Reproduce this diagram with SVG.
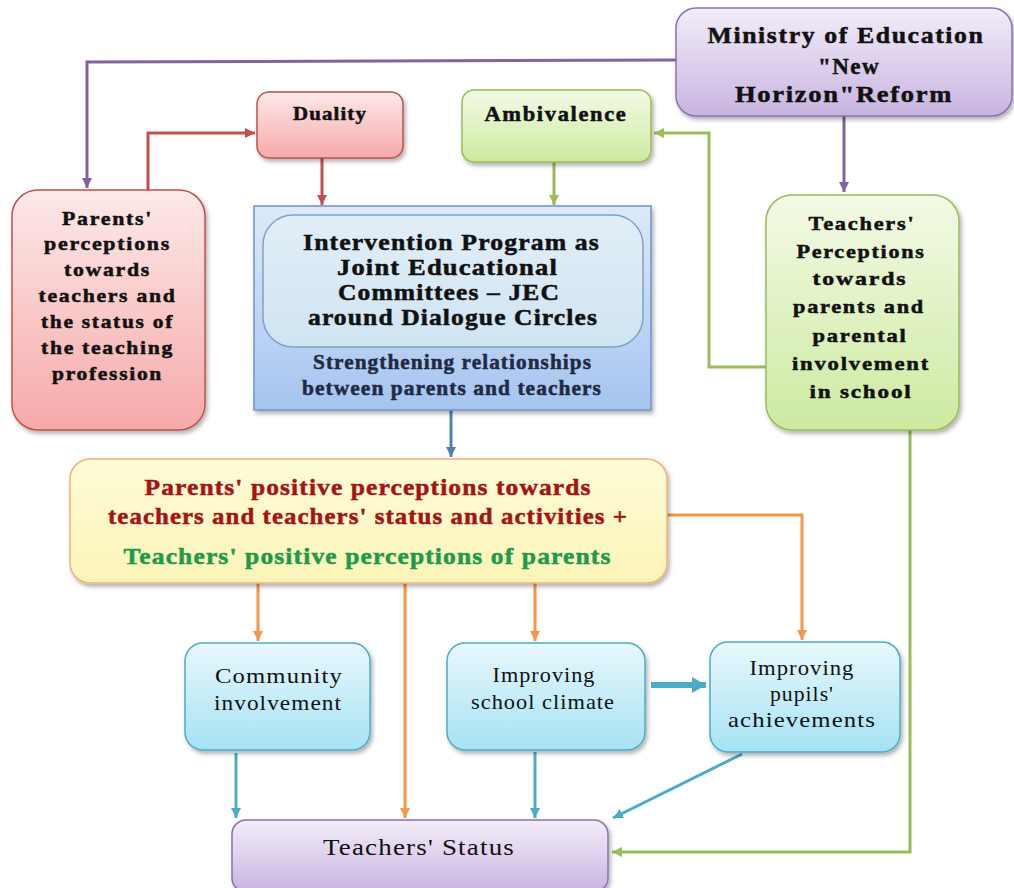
<svg xmlns="http://www.w3.org/2000/svg" width="1014" height="888" viewBox="0 0 1014 888">
  <defs>
    <linearGradient id="gPurple" x1="0" y1="0" x2="0" y2="1">
      <stop offset="0" stop-color="#f3edf9"/>
      <stop offset="1" stop-color="#c8b4e0"/>
    </linearGradient>
    <linearGradient id="gPink" x1="0" y1="0" x2="0" y2="1">
      <stop offset="0" stop-color="#fde9e9"/>
      <stop offset="1" stop-color="#f6a9a9"/>
    </linearGradient>
    <linearGradient id="gGreen" x1="0" y1="0" x2="0" y2="1">
      <stop offset="0" stop-color="#f3fae6"/>
      <stop offset="1" stop-color="#cdeaa0"/>
    </linearGradient>
    <linearGradient id="gBlue" x1="0" y1="0" x2="0" y2="1">
      <stop offset="0" stop-color="#dde9f8"/>
      <stop offset="1" stop-color="#a6c4f0"/>
    </linearGradient>
    <linearGradient id="gInner" x1="0" y1="0" x2="0" y2="1">
      <stop offset="0" stop-color="#e2eef7"/>
      <stop offset="1" stop-color="#d0e4f2"/>
    </linearGradient>
    <linearGradient id="gYellow" x1="0" y1="0" x2="0" y2="1">
      <stop offset="0" stop-color="#fefcd8"/>
      <stop offset="1" stop-color="#fbf4b8"/>
    </linearGradient>
    <linearGradient id="gCyan" x1="0" y1="0" x2="0" y2="1">
      <stop offset="0" stop-color="#e8f8fd"/>
      <stop offset="1" stop-color="#a6e2f4"/>
    </linearGradient>
    <filter id="shadow" x="-10%" y="-10%" width="130%" height="130%">
      <feDropShadow dx="2" dy="3" stdDeviation="2" flood-color="#000" flood-opacity="0.3"/>
    </filter>
    <marker id="aPurple" markerUnits="userSpaceOnUse" markerWidth="12" markerHeight="12" refX="10" refY="5" orient="auto">
      <path d="M0,0 L10,5 L0,10 Z" fill="#8064a2"/>
    </marker>
    <marker id="aRed" markerUnits="userSpaceOnUse" markerWidth="12" markerHeight="12" refX="10" refY="5" orient="auto">
      <path d="M0,0 L10,5 L0,10 Z" fill="#c0504d"/>
    </marker>
    <marker id="aGreen" markerUnits="userSpaceOnUse" markerWidth="12" markerHeight="12" refX="10" refY="5" orient="auto">
      <path d="M0,0 L10,5 L0,10 Z" fill="#9bbb59"/>
    </marker>
    <marker id="aBlue" markerUnits="userSpaceOnUse" markerWidth="12" markerHeight="12" refX="10" refY="5" orient="auto">
      <path d="M0,0 L10,5 L0,10 Z" fill="#4f81bd"/>
    </marker>
    <marker id="aOrange" markerUnits="userSpaceOnUse" markerWidth="12" markerHeight="12" refX="10" refY="5" orient="auto">
      <path d="M0,0 L10,5 L0,10 Z" fill="#f79646"/>
    </marker>
    <marker id="aTeal" markerUnits="userSpaceOnUse" markerWidth="12" markerHeight="12" refX="10" refY="5" orient="auto">
      <path d="M0,0 L10,5 L0,10 Z" fill="#4bacc6"/>
    </marker>
    <marker id="aTealBig" markerUnits="userSpaceOnUse" markerWidth="18" markerHeight="18" refX="14" refY="8" orient="auto">
      <path d="M0,0 L14,8 L0,16 Z" fill="#4bacc6"/>
    </marker>
  </defs>
  <style>
    .box { filter: url(#shadow); }
    .bold { font-family: "Liberation Serif", "Times New Roman", serif; font-weight: bold; fill: #111; stroke: #111; stroke-width: 0.5; text-anchor: middle; }
    .reg { font-family: "Liberation Serif", "Times New Roman", serif; fill: #111; text-anchor: middle; }
    .dred { fill: #a31515; stroke: #a31515; }
    .dgreen { fill: #1f9a4a; stroke: #1f9a4a; }
    .navy { fill: #1f2a44; stroke: #1f2a44; }
    .line { fill: none; stroke-width: 3; }
    .purple { stroke: #8064a2; }
    .red { stroke: #c0504d; }
    .green { stroke: #9bbb59; }
    .blue { stroke: #4f81bd; }
    .orange { stroke: #f79646; }
    .teal { stroke: #4bacc6; }
  </style>
  <rect width="1014" height="888" fill="#ffffff"/>

  <!-- connectors -->
  <g id="connectors">
    <path class="line purple" d="M676,60 L87,62 L87,188" marker-end="url(#aPurple)"/>
    <path class="line purple" d="M844,116 L844,192" marker-end="url(#aPurple)"/>
    <path class="line red" d="M148,190 L148,133 L255,133" marker-end="url(#aRed)"/>
    <path class="line red" d="M322,158 L322,205" marker-end="url(#aRed)"/>
    <path class="line green" d="M554,162 L554,205" marker-end="url(#aGreen)"/>
    <path class="line green" d="M766,367 L709,367 L709,133 L654,133" marker-end="url(#aGreen)"/>
    <path class="line blue" d="M451,410 L451,457" marker-end="url(#aBlue)"/>
    <path class="line green" d="M910,430 L910,852 L612,852" marker-end="url(#aGreen)"/>
    <path class="line orange" d="M258,583 L258,641" marker-end="url(#aOrange)"/>
    <path class="line orange" d="M405,583 L405,818" marker-end="url(#aOrange)"/>
    <path class="line orange" d="M535,583 L535,641" marker-end="url(#aOrange)"/>
    <path class="line orange" d="M667,515 L802,515 L802,640" marker-end="url(#aOrange)"/>
    <path class="line teal" d="M236,753 L236,818" marker-end="url(#aTeal)"/>
    <path class="line teal" d="M535,752 L535,818" marker-end="url(#aTeal)"/>
    <path class="line teal" d="M742,754 L613,818" marker-end="url(#aTeal)"/>
    <path class="teal" fill="none" stroke-width="6" d="M651,685 L706,685" marker-end="url(#aTealBig)"/>
  </g>

  <!-- Ministry of Education -->
  <g id="ministry">
    <rect class="box" x="676" y="8" width="336" height="108" rx="20" fill="url(#gPurple)" stroke="#8a72b0" stroke-width="1.5"/>
    <g font-size="24" letter-spacing="1.5">
      <text class="bold" x="846" y="43" textLength="277" lengthAdjust="spacingAndGlyphs">Ministry of Education</text>
      <text class="bold" x="849" y="74" textLength="62" lengthAdjust="spacingAndGlyphs">"New</text>
      <text class="bold" x="844" y="102" textLength="218" lengthAdjust="spacingAndGlyphs">Horizon"Reform</text>
    </g>
  </g>

  <!-- Parents' perceptions -->
  <g id="parents">
    <rect class="box" x="12" y="190" width="193" height="240" rx="26" fill="url(#gPink)" stroke="#c0504d" stroke-width="1.5"/>
    <g font-size="19" letter-spacing="1.5">
      <text class="bold" x="107.5" y="225" textLength="91" lengthAdjust="spacingAndGlyphs">Parents'</text>
      <text class="bold" x="107.5" y="250" textLength="127" lengthAdjust="spacingAndGlyphs">perceptions</text>
      <text class="bold" x="107.5" y="276" textLength="87" lengthAdjust="spacingAndGlyphs">towards</text>
      <text class="bold" x="107.5" y="302" textLength="138" lengthAdjust="spacingAndGlyphs">teachers and</text>
      <text class="bold" x="107.5" y="328" textLength="133" lengthAdjust="spacingAndGlyphs">the status of</text>
      <text class="bold" x="107.5" y="354" textLength="133" lengthAdjust="spacingAndGlyphs">the teaching</text>
      <text class="bold" x="107.5" y="380" textLength="111" lengthAdjust="spacingAndGlyphs">profession</text>
    </g>
  </g>

  <!-- Duality -->
  <g id="duality">
    <rect class="box" x="257" y="92" width="146" height="66" rx="12" fill="url(#gPink)" stroke="#c0504d" stroke-width="1.5"/>
    <text class="bold" x="330" y="120" font-size="18" letter-spacing="1" textLength="74" lengthAdjust="spacingAndGlyphs">Duality</text>
  </g>

  <!-- Ambivalence -->
  <g id="ambivalence">
    <rect class="box" x="462" y="90" width="189" height="72" rx="12" fill="url(#gGreen)" stroke="#9bbb59" stroke-width="1.5"/>
    <text class="bold" x="556" y="121" font-size="20" letter-spacing="1.5" textLength="143" lengthAdjust="spacingAndGlyphs">Ambivalence</text>
  </g>

  <!-- Intervention program -->
  <g id="intervention">
    <rect class="box" x="254" y="206" width="397" height="204" fill="url(#gBlue)" stroke="#6f93cc" stroke-width="1.5"/>
    <rect x="263" y="215" width="380" height="132" rx="30" fill="url(#gInner)" stroke="#7fa3c8" stroke-width="1.5"/>
    <g font-size="23" letter-spacing="1">
      <text class="bold" x="451.5" y="250" textLength="297" lengthAdjust="spacingAndGlyphs">Intervention Program as</text>
      <text class="bold" x="447.5" y="275" textLength="221" lengthAdjust="spacingAndGlyphs">Joint Educational</text>
      <text class="bold" x="449" y="300" textLength="222" lengthAdjust="spacingAndGlyphs">Committees – JEC</text>
      <text class="bold" x="453" y="325" textLength="290" lengthAdjust="spacingAndGlyphs">around Dialogue Circles</text>
    </g>
    <g font-size="20" letter-spacing="1">
      <text class="bold navy" x="452.5" y="369" textLength="279" lengthAdjust="spacingAndGlyphs">Strengthening relationships</text>
      <text class="bold navy" x="452" y="395" textLength="300" lengthAdjust="spacingAndGlyphs">between parents and teachers</text>
    </g>
  </g>

  <!-- Teachers' perceptions -->
  <g id="teachers-perceptions">
    <rect class="box" x="766" y="195" width="193" height="235" rx="26" fill="url(#gGreen)" stroke="#9bbb59" stroke-width="1.5"/>
    <g font-size="19" letter-spacing="1.5">
      <text class="bold" x="862" y="230" textLength="107" lengthAdjust="spacingAndGlyphs">Teachers'</text>
      <text class="bold" x="861" y="258" textLength="129" lengthAdjust="spacingAndGlyphs">Perceptions</text>
      <text class="bold" x="860" y="285" textLength="95" lengthAdjust="spacingAndGlyphs">towards</text>
      <text class="bold" x="859" y="313" textLength="132" lengthAdjust="spacingAndGlyphs">parents and</text>
      <text class="bold" x="860" y="342" textLength="95" lengthAdjust="spacingAndGlyphs">parental</text>
      <text class="bold" x="861" y="370" textLength="138" lengthAdjust="spacingAndGlyphs">involvement</text>
      <text class="bold" x="861" y="398" textLength="103" lengthAdjust="spacingAndGlyphs">in school</text>
    </g>
  </g>

  <!-- Positive perceptions -->
  <g id="positive-perceptions">
    <rect class="box" x="70" y="459" width="597" height="124" rx="20" fill="url(#gYellow)" stroke="#f0b27a" stroke-width="1.5"/>
    <g font-size="23" letter-spacing="1">
      <text class="bold dred" x="368" y="495" textLength="447" lengthAdjust="spacingAndGlyphs">Parents' positive perceptions towards</text>
      <text class="bold dred" x="368" y="524" textLength="520" lengthAdjust="spacingAndGlyphs">teachers and teachers' status and activities +</text>
      <text class="bold dgreen" x="367.5" y="564" textLength="488" lengthAdjust="spacingAndGlyphs">Teachers' positive perceptions of parents</text>
    </g>
  </g>

  <!-- Community involvement -->
  <g id="community">
    <rect class="box" x="185" y="643" width="185" height="107" rx="18" fill="url(#gCyan)" stroke="#4bacc6" stroke-width="1.5"/>
    <g font-size="22" letter-spacing="1">
      <text class="reg" x="279" y="683" textLength="128" lengthAdjust="spacingAndGlyphs">Community</text>
      <text class="reg" x="278" y="710" textLength="128" lengthAdjust="spacingAndGlyphs">involvement</text>
    </g>
  </g>

  <!-- Improving school climate -->
  <g id="school-climate">
    <rect class="box" x="447" y="643" width="198" height="107" rx="18" fill="url(#gCyan)" stroke="#4bacc6" stroke-width="1.5"/>
    <g font-size="22" letter-spacing="1">
      <text class="reg" x="544" y="682" textLength="103" lengthAdjust="spacingAndGlyphs">Improving</text>
      <text class="reg" x="543" y="709" textLength="144" lengthAdjust="spacingAndGlyphs">school climate</text>
    </g>
  </g>

  <!-- Improving pupils' achievements -->
  <g id="pupils">
    <rect class="box" x="710" y="642" width="190" height="110" rx="18" fill="url(#gCyan)" stroke="#4bacc6" stroke-width="1.5"/>
    <g font-size="22" letter-spacing="1">
      <text class="reg" x="802" y="675" textLength="105" lengthAdjust="spacingAndGlyphs">Improving</text>
      <text class="reg" x="802" y="701" textLength="64" lengthAdjust="spacingAndGlyphs">pupils'</text>
      <text class="reg" x="802" y="727" textLength="148" lengthAdjust="spacingAndGlyphs">achievements</text>
    </g>
  </g>

  <!-- Teachers' Status -->
  <g id="teachers-status">
    <rect class="box" x="232" y="820" width="376" height="72" rx="14" fill="url(#gPurple)" stroke="#8a72b0" stroke-width="1.5"/>
    <text class="reg" x="419" y="855" font-size="23" letter-spacing="1" textLength="192" lengthAdjust="spacingAndGlyphs">Teachers' Status</text>
  </g>
</svg>
